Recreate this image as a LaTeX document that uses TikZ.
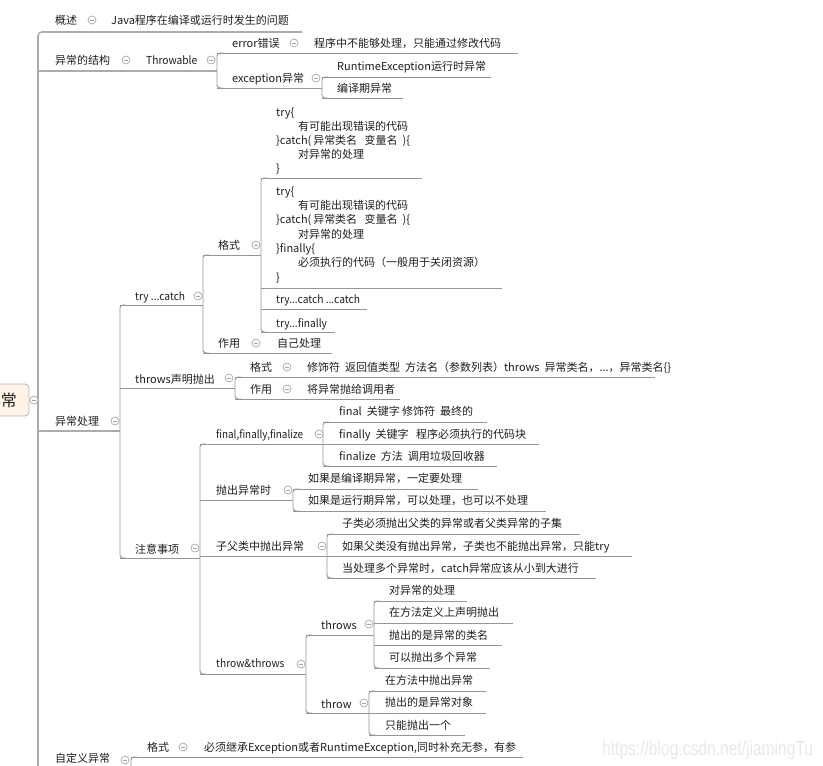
\documentclass[tikz,border=0pt]{standalone}
\usepackage{fontspec}
\setmainfont{Noto Sans CJK SC}
\newfontfamily\wmfont{Liberation Sans}
\definecolor{ln}{RGB}{150,150,150}
\definecolor{lnm}{RGB}{172,172,172}
\definecolor{rootfill}{RGB}{253,243,231}
\definecolor{txt}{RGB}{30,30,30}
\newcommand\spn[3]{\draw[sp] (#1+6,#2) -- (#1,#2) -- (#1,#3) -- (#1+6,#3);}
\newcommand\ull[3]{\draw[ul] (#2,#1) -- (#3,#1);}
\begin{document}
\begin{tikzpicture}[x=1pt,y=-1pt,
  t/.style={anchor=base west, yshift=-4pt, inner sep=0pt, font=\fontsize{11}{13}\selectfont, text=txt},
  lat/.style={xscale=0.93},
  ul/.style={draw=ln, line width=0.9pt},
  ulm/.style={draw=lnm, line width=1.6pt},
  sp/.style={draw=ln, line width=0.9pt, rounded corners=3pt},
  mn/.pic={\draw[ln!85, line width=0.7pt, fill=white] (0,0) circle (4pt); \draw[ln!85, line width=0.7pt] (-2.2pt,0) -- (2.2pt,0);}
]
\useasboundingbox (0,0) rectangle (823,766);
\clip (0,0) rectangle (823,766);

% ---------- level 1 lines
\draw[ulm, rounded corners=4pt] (302,32) -- (38,32) -- (38,800);
\draw[ulm] (38,71) -- (217,71);
\draw[ulm] (38,431) -- (120,431);
\draw[ulm] (38,770) -- (131,770);

% ---------- 异常的结构
\spn{217}{53}{88}
\ull{53}{217}{518}
\ull{88}{217}{322}
\spn{322}{77}{98}
\ull{77}{322}{491}
\ull{98}{322}{403}

% ---------- 异常处理
\spn{120}{305}{558}
\ull{305}{120}{203}
\ull{388}{120}{235}
\ull{558}{120}{200}
% try catch
\spn{203}{255}{353}
\ull{255}{203}{261}
\ull{353}{203}{332}
\spn{261}{178}{332}
\ull{178}{261}{422}
\ull{288}{261}{502}
\ull{309}{261}{367}
\ull{332}{261}{335}
% throws
\spn{235}{377}{399}
\ull{377}{235}{655}
\ull{399}{235}{400}
% 注意事项
\spn{200}{444}{674}
\ull{444}{200}{323}
\ull{500}{200}{293}
\ull{556}{200}{327}
\ull{674}{200}{306}
\spn{323}{422}{466}
\ull{422}{323}{487}
\ull{444}{323}{539}
\ull{466}{323}{497}
\spn{293}{489}{511}
\ull{489}{293}{478}
\ull{511}{293}{546}
\spn{327}{534}{578}
\ull{534}{327}{580}
\ull{556}{327}{632}
\ull{578}{327}{596}
\spn{306}{635}{713}
\ull{635}{306}{374}
\ull{713}{306}{369}
\spn{374}{601}{668}
\ull{601}{374}{467}
\ull{623}{374}{513}
\ull{645}{374}{502}
\ull{668}{374}{490}
\spn{369}{691}{735}
\ull{691}{369}{486}
\ull{713}{369}{486}
\ull{735}{369}{465}

% ---------- 自定义异常
\draw[sp] (137,757) -- (131,757) -- (131,800);
\ull{757}{131}{523}

% ---------- root
\draw[draw=gray!60, fill=rootfill, rounded corners=4pt, line width=0.8pt] (-27,384) rectangle (29,416);
\node[inner sep=0pt, font=\fontsize{16}{18}\selectfont, text=txt] (root) at (1,400) {异常};

% ---------- collapse circles
\foreach \p in {(34,400),(92,20),(126,60),(211,60),(294,43),(316,78),
  (115,421),(198,296),(256,245),(256,343),(229,378),(287,367),(287,389),
  (195,548),(319,434),(288,490),(322,546),(301,664),(369,624),(364,703),
  (125,760),(183,747)}
  \pic at \p {mn};

% ---------- texts
\node[t] (gs) at (55,20) {概述};
\node[t] (gs1) at (111,20) {Java程序在编译或运行时发生的问题};
\node[t] (jg) at (55,60) {异常的结构};
\node[t,lat] (thr) at (146,60) {Throwable};
\node[t] (err) at (232,43) {error错误};
\node[t] (err1) at (314,43) {程序中不能够处理，只能通过修改代码};
\node[t] (exc) at (232,78) {exception异常};
\node[t] (rte) at (337,66) {RuntimeException运行时异常};
\node[t] (byq) at (337,88) {编译期异常};

\node[t] (cl) at (55,421) {异常处理};
\node[t,lat] (tc) at (135,296) {try ...catch};
\node[t] (gs2) at (218,245) {格式};
\node[t] (b1a) at (276,112) {try\{};
\node[t] (b1b) at (298,126) {有可能出现错误的代码};
\node[t] (b1c) at (276,140) {\}catch(\,异常类名\ \ \ 变量名\ \ )\{};
\node[t] (b1d) at (298,154) {对异常的处理};
\node[t] (b1e) at (276,168) {\}};
\node[t] (b2a) at (276,191) {try\{};
\node[t] (b2b) at (298,205) {有可能出现错误的代码};
\node[t] (b2c) at (276,219) {\}catch(\,异常类名\ \ \ 变量名\ \ )\{};
\node[t] (b2d) at (298,234) {对异常的处理};
\node[t] (b2e) at (276,248) {\}finally\{};
\node[t] (b2f) at (298,262) {必须执行的代码（一般用于关闭资源）};
\node[t] (b2g) at (276,277) {\}};
\node[t,lat] (tcc) at (276,299) {try...catch ...catch};
\node[t,lat] (tf) at (276,323) {try...finally};
\node[t] (zy1) at (218,343) {作用};
\node[t] (zjcl) at (277,343) {自己处理};
\node[t] (thsm) at (135,379) {throws声明抛出};
\node[t] (gs3) at (250,367) {格式};
\node[t] (gs3a) at (307,367) {修饰符\ \ 返回值类型\ \ 方法名（参数列表）throws\ \ 异常类名，...，异常类名\{\}};
\node[t] (zy2) at (250,389) {作用};
\node[t] (zy2a) at (307,389) {将异常抛给调用者};

\node[t] (zysx) at (135,549) {注意事项};
\node[t,xscale=0.9] (fff) at (216,434) {final,finally,finalize};
\node[t] (f1) at (339,411) {final\ \ 关键字\ 修饰符\ \ 最终的};
\node[t] (f2) at (339,434) {finally\ \ 关键字\ \ \ 程序必须执行的代码块};
\node[t] (f3) at (339,456) {finalize\ \ 方法\ \ 调用垃圾回收器};
\node[t] (pc) at (216,490) {抛出异常时};
\node[t] (pc1) at (308,478) {如果是编译期异常，一定要处理};
\node[t] (pc2) at (308,500) {如果是运行期异常，可以处理，也可以不处理};
\node[t] (zf) at (216,546) {子父类中抛出异常};
\node[t] (zf1) at (342,523) {子类必须抛出父类的异常或者父类异常的子集};
\node[t] (zf2) at (342,546) {如果父类没有抛出异常，子类也不能抛出异常，只能try};
\node[t] (zf3) at (342,568) {当处理多个异常时，catch异常应该从小到大进行};
\node[t,lat] (tt) at (216,663) {throw\&throws};
\node[t] (ths) at (321,625) {throws};
\node[t] (ths1) at (389,590) {对异常的处理};
\node[t] (ths2) at (389,612) {在方法定义上声明抛出};
\node[t] (ths3) at (389,635) {抛出的是异常的类名};
\node[t] (ths4) at (389,657) {可以抛出多个异常};
\node[t] (th) at (321,704) {throw};
\node[t] (th1) at (385,680) {在方法中抛出异常};
\node[t] (th2) at (385,702) {抛出的是异常对象};
\node[t] (th3) at (385,725) {只能抛出一个};

\node[t] (zdy) at (55,758) {自定义异常};
\node[t] (gs4) at (147,747) {格式};
\node[t] (gs4a) at (204,747) {必须继承Exception或者RuntimeException,同时补充无参，有参};

% ---------- watermark
\node[anchor=base west, inner sep=0pt, xscale=0.78, font=\wmfont\fontsize{20}{20}\selectfont, text=gray!18] (wm) at (602,755) {https://blog.csdn.net/jiamingTu};
\end{tikzpicture}
\end{document}
